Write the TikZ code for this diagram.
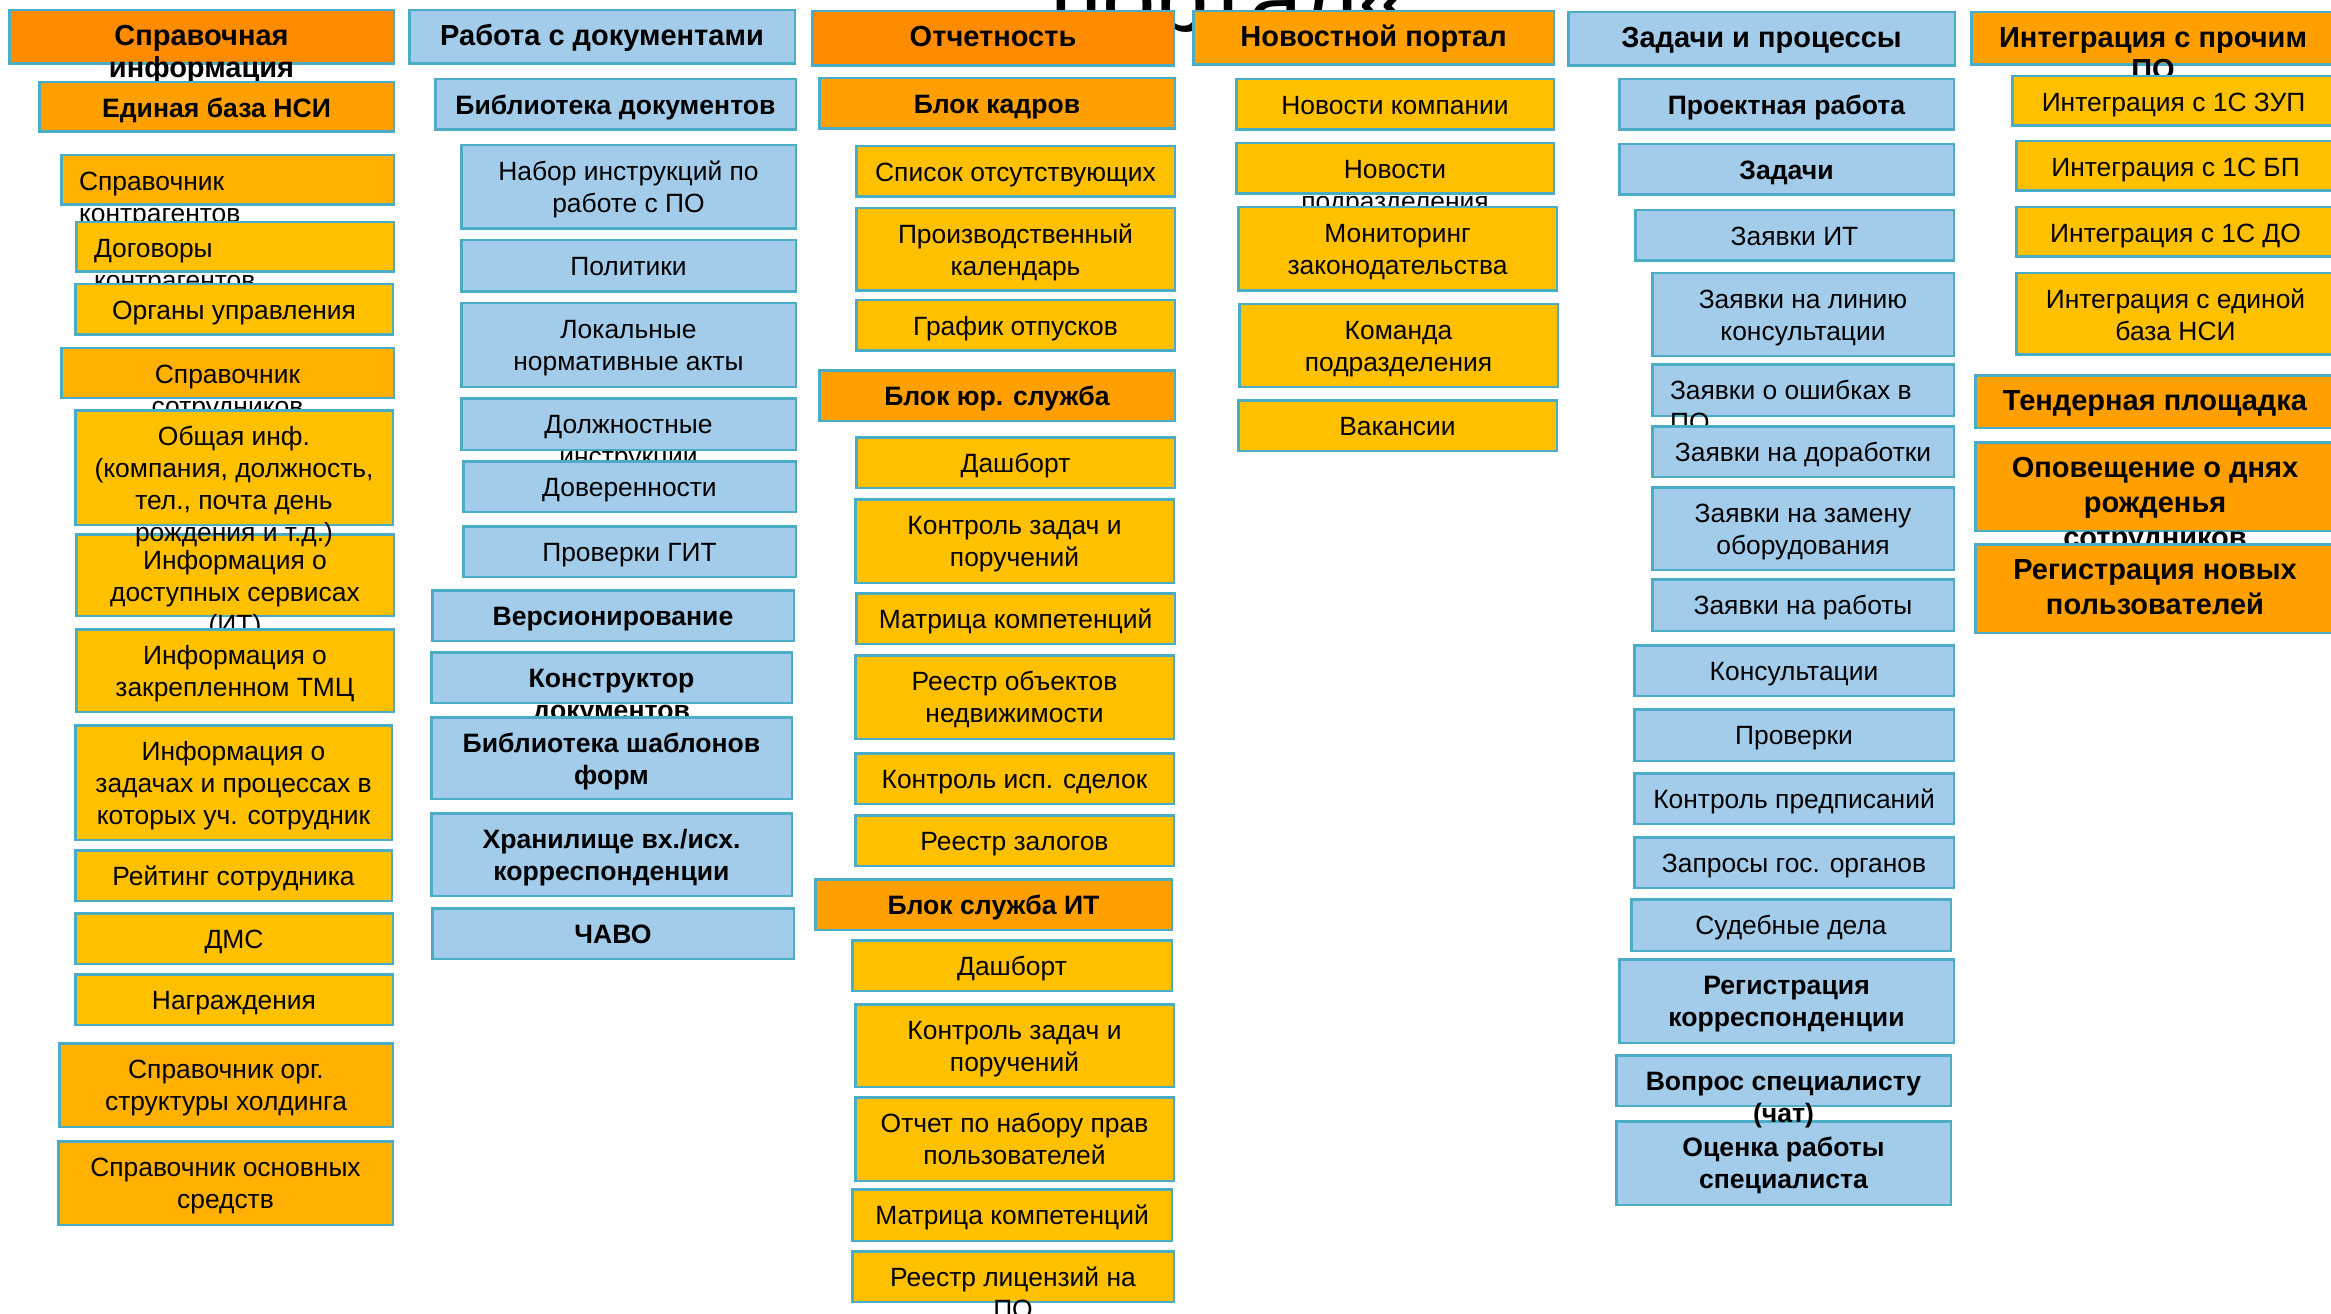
\documentclass[tikz,border=0pt]{standalone}
\usepackage{fontspec}
\setmainfont{Liberation Sans}

\definecolor{hdrdark}{HTML}{FF8C00}
\definecolor{hdrmid}{HTML}{FFA000}
\definecolor{refmid}{HTML}{FFB000}
\definecolor{leafy}{HTML}{FFC000}
\definecolor{paleblue}{HTML}{A3CCEB}
\definecolor{edge}{HTML}{4BACC6}

% font presets for the tile captions
\newcommand\rg{\fontsize{26.4bp}{32bp}\selectfont}
\newcommand\bd{\bfseries\fontsize{29bp}{32bp}\selectfont}
\newcommand\bs{\bfseries\fontsize{26.6bp}{32bp}\selectfont}
\newcommand\bdl{\bfseries\fontsize{29bp}{35bp}\selectfont}

\tikzset{
  tilebox/.style={rectangle, draw=edge, line width=2.5bp, inner sep=0pt, outer sep=0pt},
  dark/.style={fill=hdrdark},
  hdr/.style={fill=hdrmid},
  mid/.style={fill=refmid},
  leaf/.style={fill=leafy},
  blue/.style={fill=paleblue},
  tiletext/.style={inner sep=0pt, outer sep=0pt, text=black}
}

% \tile{name}{fill}{font}{x1}{y1}{x2}{y2}{caption}: box with a centred caption
% whose first baseline sits at a fixed distance below the top edge
\newcommand\tile[8]{%
  \node[tilebox,#2,minimum width={(#6-#4-2.5)*1bp},minimum height={(#7-#5-2.5)*1bp}]
    (#1) at ({(#4+#6)/2},{(#5+#7)/2}) {};
  \node[tiletext,anchor=base] (#1-t) at ({(#4+#6)/2},{#5+36.5})
    {\parbox[t]{\dimexpr#6bp-#4bp\relax}{\centering#3#8}};
}
% same, with a left-aligned caption
\newcommand\ltile[8]{%
  \node[tilebox,#2,minimum width={(#6-#4-2.5)*1bp},minimum height={(#7-#5-2.5)*1bp}]
    (#1) at ({(#4+#6)/2},{(#5+#7)/2}) {};
  \node[tiletext,anchor=base west] (#1-t) at ({#4+19},{#5+36.5})
    {\parbox[t]{\dimexpr#6bp-#4bp-19bp\relax}{\raggedright#3#8}};
}

\begin{document}
\begin{tikzpicture}[x=1bp,y=-1bp]
\useasboundingbox (0,0) rectangle (2331,1314);
\clip (0,0) rectangle (2331,1314);
\fill[white] (0,0) rectangle (2331,1314);

% heading of the slide, mostly hidden behind the tiles
\node[tiletext,anchor=base west,font=\fontsize{96bp}{96bp}\selectfont] (title) at (1050,32) {портал«};

% --- Справочная информация
\tile{ref}{dark}{\bd}{8}{9}{395}{65}{Справочная\\информация}
\tile{nsi}{hdr}{\bs}{38}{81}{395}{133}{Единая база НСИ}
\ltile{kontr}{mid}{\rg}{60}{154}{395}{206}{Справочник\\контрагентов}
\ltile{dogov}{leaf}{\rg}{75}{221}{395}{273}{Договоры\\контрагентов}
\tile{organy}{leaf}{\rg}{74}{283}{394}{336}{Органы управления}
\tile{sotr}{mid}{\rg}{60}{347}{395}{399}{Справочник\\сотрудников}
\tile{servis}{leaf}{\rg}{75}{533}{395}{617}{Информация о\\доступных сервисах\\(ИТ)}
\tile{obsh}{leaf}{\rg}{74}{409}{394}{526}{Общая инф.\\(компания, должность,\\тел., почта день\\рождения и т.д.)}
\tile{tmc}{leaf}{\rg}{75}{628}{395}{713}{Информация о\\закрепленном ТМЦ}
\tile{zadinf}{leaf}{\rg}{74}{724}{393}{841}{Информация о\\задачах и процессах в\\которых уч. сотрудник}
\tile{reiting}{leaf}{\rg}{74}{849}{393}{902}{Рейтинг сотрудника}
\tile{dms}{leaf}{\rg}{74}{912}{394}{965}{ДМС}
\tile{nagr}{leaf}{\rg}{74}{973}{394}{1026}{Награждения}
\tile{orgstr}{mid}{\rg}{58}{1042}{394}{1128}{Справочник орг.\\структуры холдинга}
\tile{osnsr}{mid}{\rg}{57}{1140}{394}{1226}{Справочник основных\\средств}

% --- Работа с документами
\tile{docs}{blue}{\bd}{408}{9}{796}{65}{Работа с документами}
\tile{lib}{blue}{\bs}{434}{78}{797}{131}{Библиотека документов}
\tile{instr}{blue}{\rg}{460}{144}{797}{230}{Набор инструкций по\\работе с ПО}
\tile{polit}{blue}{\rg}{460}{239}{797}{293}{Политики}
\tile{lna}{blue}{\rg}{460}{302}{797}{388}{Локальные\\нормативные акты}
\tile{dolzh}{blue}{\rg}{460}{397}{797}{451}{Должностные\\инструкции}
\tile{dover}{blue}{\rg}{462}{460}{797}{513}{Доверенности}
\tile{git}{blue}{\rg}{462}{525}{797}{578}{Проверки ГИТ}
\tile{vers}{blue}{\bs}{431}{589}{795}{642}{Версионирование}
\tile{konstr}{blue}{\bs}{430}{651}{793}{704}{Конструктор\\документов}
\tile{shabl}{blue}{\bs}{430}{716}{793}{800}{Библиотека шаблонов\\форм}
\tile{hran}{blue}{\bs}{430}{812}{793}{897}{Хранилище вх./исх.\\корреспонденции}
\tile{faq}{blue}{\bs}{431}{907}{795}{960}{ЧАВО}

% --- Отчетность
\tile{rep}{dark}{\bd}{811}{10}{1175}{67}{Отчетность}
\tile{kadr}{hdr}{\bs}{818}{77}{1176}{130}{Блок кадров}
\tile{otsut}{leaf}{\rg}{855}{145}{1176}{198}{Список отсутствующих}
\tile{kalend}{leaf}{\rg}{855}{207}{1176}{292}{Производственный\\календарь}
\tile{otpusk}{leaf}{\rg}{855}{299}{1176}{352}{График отпусков}
\tile{yur}{hdr}{\bs}{818}{369}{1176}{422}{Блок юр. служба}
\tile{dashA}{leaf}{\rg}{855}{436}{1176}{489}{Дашборт}
\tile{kontrA}{leaf}{\rg}{854}{498}{1175}{584}{Контроль задач и\\поручений}
\tile{matrA}{leaf}{\rg}{855}{592}{1176}{645}{Матрица компетенций}
\tile{nedv}{leaf}{\rg}{854}{654}{1175}{740}{Реестр объектов\\недвижимости}
\tile{sdelki}{leaf}{\rg}{854}{752}{1175}{805}{Контроль исп. сделок}
\tile{zalog}{leaf}{\rg}{854}{814}{1175}{867}{Реестр залогов}
\tile{itblk}{hdr}{\bs}{814}{878}{1173}{931}{Блок служба ИТ}
\tile{dashB}{leaf}{\rg}{851}{939}{1173}{992}{Дашборт}
\tile{kontrB}{leaf}{\rg}{854}{1003}{1175}{1088}{Контроль задач и\\поручений}
\tile{prava}{leaf}{\rg}{854}{1096}{1175}{1182}{Отчет по набору прав\\пользователей}
\tile{matrB}{leaf}{\rg}{851}{1188}{1173}{1242}{Матрица компетенций}
\tile{lic}{leaf}{\rg}{851}{1250}{1175}{1303}{Реестр лицензий на\\ПО}

% --- Новостной портал
\tile{news}{hdr}{\bd}{1192}{10}{1555}{66}{Новостной портал}
\tile{newsco}{leaf}{\rg}{1235}{78}{1555}{131}{Новости компании}
\tile{newsdep}{leaf}{\rg}{1235}{142}{1555}{195}{Новости\\подразделения}
\tile{monit}{leaf}{\rg}{1237}{206}{1558}{292}{Мониторинг\\законодательства}
\tile{team}{leaf}{\rg}{1238}{303}{1559}{388}{Команда\\подразделения}
\tile{vac}{leaf}{\rg}{1237}{399}{1558}{452}{Вакансии}

% --- Задачи и процессы
\tile{tasks}{blue}{\bd}{1567}{11}{1956}{67}{Задачи и процессы}
\tile{proj}{blue}{\bs}{1618}{78}{1955}{131}{Проектная работа}
\tile{zadachi}{blue}{\bs}{1618}{143}{1955}{196}{Задачи}
\tile{zit}{blue}{\rg}{1634}{209}{1955}{262}{Заявки ИТ}
\tile{zline}{blue}{\rg}{1651}{272}{1955}{357}{Заявки на линию\\консультации}
\ltile{zerr}{blue}{\rg}{1651}{363}{1955}{417}{Заявки о ошибках в\\ПО}
\tile{zdor}{blue}{\rg}{1651}{425}{1955}{478}{Заявки на доработки}
\tile{zzam}{blue}{\rg}{1651}{486}{1955}{571}{Заявки на замену\\оборудования}
\tile{zrab}{blue}{\rg}{1651}{578}{1955}{632}{Заявки на работы}
\tile{kons}{blue}{\rg}{1633}{644}{1955}{697}{Консультации}
\tile{prov}{blue}{\rg}{1633}{708}{1955}{762}{Проверки}
\tile{predp}{blue}{\rg}{1633}{772}{1955}{825}{Контроль предписаний}
\tile{gos}{blue}{\rg}{1633}{836}{1955}{889}{Запросы гос. органов}
\tile{sud}{blue}{\rg}{1630}{898}{1952}{952}{Судебные дела}
\tile{regk}{blue}{\bs}{1618}{958}{1955}{1044}{Регистрация\\корреспонденции}
\tile{ocenka}{blue}{\bs}{1615}{1120}{1952}{1206}{Оценка работы\\специалиста}
\tile{vopros}{blue}{\bs}{1615}{1054}{1952}{1107}{Вопрос специалисту\\(чат)}

% --- Интеграция с прочим ПО
\tile{integ}{hdr}{\bd}{1970}{11}{2336}{66}{Интеграция с прочим\\ПО}
\tile{zup}{leaf}{\rg}{2011}{75}{2336}{127}{Интеграция с 1С ЗУП}
\tile{bp}{leaf}{\rg}{2015}{140}{2336}{192}{Интеграция с 1С БП}
\tile{doc}{leaf}{\rg}{2015}{206}{2336}{258}{Интеграция с 1С ДО}
\tile{nsiint}{leaf}{\rg}{2015}{272}{2336}{356}{Интеграция с единой\\база НСИ}
\tile{tender}{hdr}{\bd}{1974}{374}{2336}{429}{Тендерная площадка}
\tile{bday}{hdr}{\bdl}{1974}{441}{2336}{532}{Оповещение о днях\\рожденья\\сотрудников}
\tile{newusr}{hdr}{\bdl}{1974}{543}{2336}{634}{Регистрация новых\\пользователей}
\end{tikzpicture}
\end{document}
